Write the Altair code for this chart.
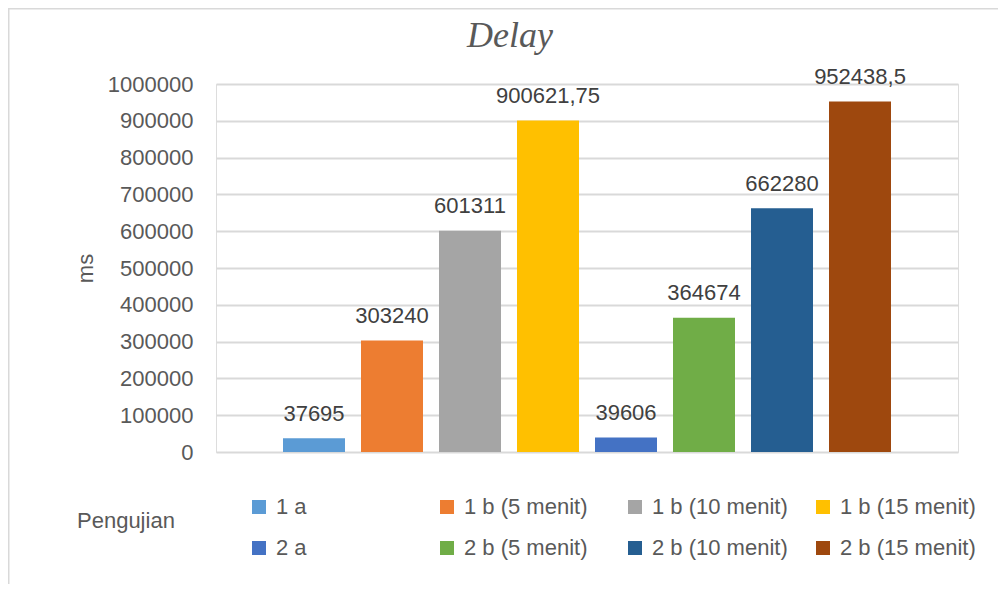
import altair as alt
import pandas as pd

series = ["1 a", "1 b (5 menit)", "1 b (10 menit)", "1 b (15 menit)",
          "2 a", "2 b (5 menit)", "2 b (10 menit)", "2 b (15 menit)"]
values = [37695, 303240, 601311, 900621.75, 39606, 364674, 662280, 952438.5]
labels = ["37695", "303240", "601311", "900621,75", "39606", "364674", "662280", "952438,5"]
colors = ["#5B9BD5", "#ED7D31", "#A5A5A5", "#FFC000",
          "#4472C4", "#70AD47", "#255E91", "#9E480E"]
y_ticks = [0, 100000, 200000, 300000, 400000, 500000, 600000, 700000, 800000, 900000, 1000000]
chart_title = "Delay"

df = pd.DataFrame({"series": series, "value": values, "label": labels})

FONT = "Liberation Sans"
GREY = "#595959"

x_enc = alt.X("series:N", sort=series, axis=None,
              scale=alt.Scale(paddingInner=16 / 78, paddingOuter=67 / 78))
y_enc = alt.Y("value:Q",
              scale=alt.Scale(domain=[0, 1000000], nice=False, zero=True),
              axis=alt.Axis(title="ms", values=y_ticks, format="d",
                            tickCount=11, labelOverlap=False,
                            grid=True, gridColor="#d9d9d9", gridWidth=2,
                            domain=False, ticks=False, tickSize=0,
                            labelPadding=23, labelFontSize=22, labelColor=GREY,
                            labelFont=FONT, titleFont=FONT, titleFontSize=22,
                            titleColor=GREY, titleFontWeight="normal",
                            titlePadding=10))

frame = alt.Chart(alt.InlineData(values=[{"k": 1}])).mark_rect(
    fill="transparent", stroke="#d9d9d9", strokeWidth=1.5
).encode(
    x=alt.value(-207.25), x2=alt.value(900),
    y=alt.value(-75.25), y2=alt.value(700)
)

title_mark = alt.Chart(alt.InlineData(values=[{"t": chart_title}])).mark_text(
    font="Liberation Serif", fontStyle="italic", fontSize=36, color=GREY,
    align="center", baseline="alphabetic"
).encode(
    x=alt.value(294), y=alt.value(-37), text="t:N"
)

bars = alt.Chart(df).mark_bar().encode(
    x=x_enc,
    y=y_enc,
    color=alt.Color("series:N", sort=series,
                    scale=alt.Scale(domain=series, range=colors),
                    legend=alt.Legend(
                        title="Pengujian", orient="none", direction="horizontal",
                        legendX=-139, legendY=412,
                        titleOrient="left", titleAnchor="middle",
                        titleBaseline="alphabetic",
                        titlePadding=73, titleFontSize=22, titleColor=GREY,
                        titleFont=FONT, titleFontWeight="normal",
                        columns=4, gridAlign="all", columnPadding=24,
                        rowPadding=19, symbolType="square", symbolSize=196,
                        symbolStrokeWidth=0, symbolOpacity=1,
                        labelFontSize=22, labelColor=GREY, labelFont=FONT,
                        labelOffset=6, labelLimit=300, padding=0)),
)

text = alt.Chart(df).mark_text(
    dy=-17.5, baseline="alphabetic", fontSize=22, color="#404040", font=FONT
).encode(
    x=x_enc,
    y=y_enc,
    text="label:N",
)

chart = alt.layer(frame, title_mark, bars, text).properties(
    width=742, height=368,
    autosize=alt.AutoSizeParams(type="none"),
    padding={"left": 208, "top": 76, "right": 40, "bottom": 132},
).configure_view(strokeWidth=0).configure(font=FONT)

chart.save("out.html", embed_options={"renderer": "svg", "actions": False})
